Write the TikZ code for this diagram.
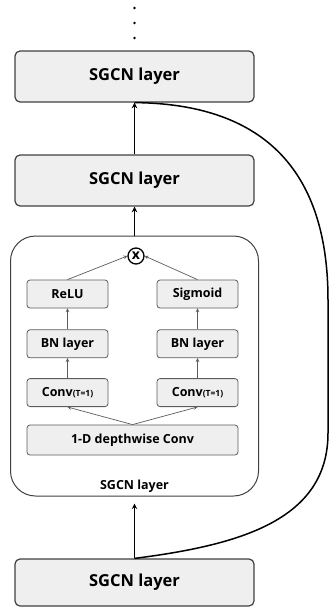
\documentclass[tikz,border=0pt]{standalone}
\usepackage{fontspec}
\setmainfont{Open Sans}
\usetikzlibrary{positioning}
\definecolor{boxfill}{HTML}{EFEFEF}
\definecolor{boxline}{HTML}{404040}
\definecolor{innerline}{HTML}{5C5C5C}

\begin{document}
\begin{tikzpicture}[
    x=1pt,
    y=-1pt,
    layer/.style={
        draw=boxline,
        fill=boxfill,
        line width=1.2pt,
        rounded corners=5pt,
        minimum width=239pt,
        minimum height=51pt,
        font=\fontsize{16.5}{18}\selectfont\bfseries
    },
    unit/.style={
        draw=innerline,
        fill=boxfill,
        line width=0.8pt,
        rounded corners=3pt,
        minimum width=81pt,
        minimum height=28pt,
        font=\fontsize{12.5}{14}\selectfont\bfseries
    },
    arrow/.style={
        ->,
        >=stealth,
        line width=1.5pt
    },
    link/.style={
        ->,
        >=stealth,
        draw=innerline,
        line width=0.7pt
    }
]
    \useasboundingbox (0,0) rectangle (330,613);

    % dots above the stack
    \foreach \y in {8,23,38}
        \fill (134.5,\y) circle (1.3pt);

    \node[layer] (A) at (134.5,76.5)
    {
        SGCN layer
    };

    \node[layer] (B) at (134.5,180.5)
    {
        SGCN layer
    };

    % expanded layer
    \node[draw=boxline,line width=1pt,rounded corners=25pt,minimum width=248pt,minimum height=260pt] (wrap)
    at (134.5,366) {};

    \node[font=\fontsize{12.5}{14}\selectfont\bfseries] (wraplabel)
    at (134.5,486)
    {
        SGCN layer
    };

    \node[circle,draw=black,line width=1.3pt,fill=white,minimum size=16pt,inner sep=0pt,font=\fontsize{14}{14}\selectfont\bfseries] (mul)
    at (136,256)
    {x};

    \node[unit] (relu) at (67.5,294)
    {
        ReLU
    };

    \node[unit] (sig) at (197.5,294)
    {
        Sigmoid
    };

    \node[unit] (bnl)
    [below=21pt of relu]
    {
        BN layer
    };

    \node[unit] (bnr)
    [below=21pt of sig]
    {
        BN layer
    };

    \node[unit] (convl)
    [below=20pt of bnl]
    {
        Conv{\fontsize{8.5}{9}\selectfont(T=1)}
    };

    \node[unit] (convr)
    [below=20pt of bnr]
    {
        Conv{\fontsize{8.5}{9}\selectfont(T=1)}
    };

    \node[unit,minimum width=211pt,minimum height=30pt] (dw) at (132.5,440)
    {
        1-D depthwise Conv
    };

    \node[layer,minimum height=47pt] (E) at (134.5,582.5)
    {
        SGCN layer
    };


    \draw[link] (dw.north) -- (convl.south);
    \draw[link] (dw.north) -- (convr.south);
    \draw[link] (convl) -- (bnl);
    \draw[link] (convr) -- (bnr);
    \draw[link] (bnl) -- (relu);
    \draw[link] (bnr) -- (sig);
    \draw[link] (relu.north) -- (mul.west);
    \draw[link] (sig.north) -- (mul.east);

    \draw[arrow] (B) -- (A);

    \draw[arrow] (wrap) -- (B);

    \draw[arrow] (E) -- ([yshift=-7pt]wrap.south);

    % skip connection
    \draw[line width=1.5pt]
    (E.north)
        .. controls (240,545) and (328,520) .. (328,433)
        -- (328,300)
        .. controls (328,200) and (290,104) .. (A.south);

\end{tikzpicture}
\end{document}
